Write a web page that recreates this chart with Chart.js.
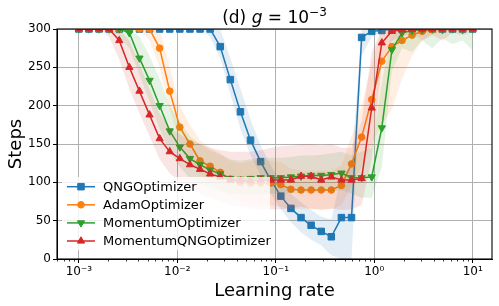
<!DOCTYPE html>
<html><head><meta charset="utf-8">
<script src="https://cdn.jsdelivr.net/npm/chart.js@4"></script>
<style>html,body{margin:0;padding:0;background:#fff;}</style>
</head><body>
<canvas id="c" width="499" height="306" style="display:block;width:499px;height:306px"></canvas>
<script>
// ---- data ----
const learningRates = [0.001, 0.0012664, 0.0016037, 0.0020309, 0.0025719, 0.003257, 0.0041246, 0.0052233, 0.0066147, 0.0083768,
  0.010608, 0.013434, 0.017013, 0.021544, 0.027283, 0.034551, 0.043755, 0.05541, 0.07017, 0.088862,
  0.11253, 0.14251, 0.18047, 0.22855, 0.28943, 0.36652, 0.46416, 0.5878, 0.74438, 0.94267,
  1.1938, 1.5118, 1.9145, 2.4245, 3.0703, 3.8882, 4.9239, 6.2355, 7.8965, 10.0];

const qngSteps = [300,300,300,300,300,300,300,300,300,300, 300,300,300,300,277,234,192,155,127,103,
  82,66,54,44,36,29,54,54,289,297, 298,300,300,300,300,300,300,300,300,300];
const qngLow = [300,300,300,300,300,300,300,300,300,300, 300,300,300,290,262,215,170,135,110,85,
  65,48,35,25,18,5,0,0,265,290, 296,300,300,300,300,300,300,300,300,300];
const qngHigh = [300,300,300,300,300,300,300,300,300,300, 300,300,300,300,300,262,222,182,148,122,
  100,85,74,64,55,52,110,120,300,300, 300,300,300,300,300,300,300,300,300,300];

const adamSteps = [300,300,300,300,300,300,300,300,275,219, 172,150,128,121,113,104,100,99,99,99,
  97,91,90,90,90,90,96,124,159,208, 258,277,285,292,297,299,300,300,300,300];
const adamLow = [300,300,300,300,300,300,300,285,250,195, 150,130,110,100,90,82,75,72,70,70,
  68,65,65,65,65,65,70,95,120,150, 175,195,235,265,285,293,296,298,298,298];
const adamHigh = [300,300,300,300,300,300,300,300,300,250, 200,175,155,145,138,128,125,128,128,128,
  126,118,115,115,115,115,122,160,200,255, 300,300,300,300,300,300,300,300,300,300];

const momSteps = [300,300,300,300,300,295,262,233,200,167, 146,131,123,116,111,105,104,105,106,106,
  106,107,108,109,109,110,112,106,106,107, 171,273,295,298,299,300,299,300,299,300];
const momLow = [300,300,300,300,290,275,240,205,170,140, 120,105,98,92,88,85,85,85,85,85,
  85,86,86,88,88,88,90,85,80,80, 120,245,275,270,285,275,288,280,285,272];
const momHigh = [300,300,300,300,300,300,290,265,235,200, 178,160,150,142,136,130,128,130,132,132,
  132,133,135,135,136,138,140,135,140,145, 230,300,300,300,300,300,300,300,300,300];

const mqngSteps = [300,300,300,300,285,250,219,188,157,140, 131,123,117,111,107,103,102,102,103,103,
  103,103,108,108,103,107,103,103,105,197, 282,297,299,300,300,300,300,300,300,300];
const mqngLow = [300,300,300,290,260,222,190,160,130,112, 100,92,85,80,75,70,68,66,65,65,
  65,66,68,66,64,66,64,65,70,130, 255,285,290,295,285,292,285,295,292,296];
const mqngHigh = [300,300,300,300,300,285,255,222,190,172, 162,155,150,145,142,140,140,140,142,145,
  147,148,150,150,148,150,145,145,180,270, 300,300,300,300,300,300,300,300,300,300];

const seriesNames = ['QNGOptimizer', 'AdamOptimizer', 'MomentumOptimizer', 'MomentumQNGOptimizer'];
const xTickValues = [0.001, 0.01, 0.1, 1, 10];
const xTickLabels = ['10⁻³', '10⁻²', '10⁻¹', '10⁰', '10¹'];
const yTickStep = 50;

// ---- styling ----
const FONT = "'DejaVu Sans'";
Chart.defaults.font.family = FONT;
const colors = ['#1f77b4', '#ff7f0e', '#2ca02c', '#d62728'];
const fills = ['rgba(31,119,180,0.13)', 'rgba(255,127,14,0.12)', 'rgba(44,160,44,0.12)', 'rgba(214,39,40,0.12)'];
const markers = [
  {pointStyle: 'rect', radius: 4.6, rotation: 0},
  {pointStyle: 'circle', radius: 3.3, rotation: 0},
  {pointStyle: 'triangle', radius: 4.2, rotation: 180},
  {pointStyle: 'triangle', radius: 4.2, rotation: 0}
];
const means = [qngSteps, adamSteps, momSteps, mqngSteps];
const lows = [qngLow, adamLow, momLow, mqngLow];
const highs = [qngHigh, adamHigh, momHigh, mqngHigh];

const pts = arr => arr.map((v, i) => ({x: learningRates[i], y: v}));

const datasets = [];
for (let s = 3; s >= 0; s--) {
  datasets.push({
    label: seriesNames[s], data: pts(means[s]),
    borderColor: colors[s], backgroundColor: colors[s], borderWidth: 1.5,
    pointStyle: markers[s].pointStyle, pointRadius: markers[s].radius, pointRotation: markers[s].rotation,
    pointBackgroundColor: colors[s], pointBorderColor: colors[s], pointBorderWidth: 1,
    tension: 0, fill: false, clip: 0
  });
  datasets.push({
    label: seriesNames[s] + ' upper', data: pts(highs[s]),
    borderColor: 'rgba(0,0,0,0)', borderWidth: 0, pointRadius: 0, pointHoverRadius: 0,
    backgroundColor: fills[s], fill: '+1', tension: 0, clip: 0
  });
  datasets.push({
    label: seriesNames[s] + ' lower', data: pts(lows[s]),
    borderColor: 'rgba(0,0,0,0)', borderWidth: 0, pointRadius: 0, pointHoverRadius: 0,
    fill: false, tension: 0, clip: 0
  });
}

const deco = {
  id: 'deco',
  afterDatasetsDraw(chart) {
    const {ctx, chartArea: a, scales} = chart;
    const xs = scales.x;
    ctx.save();
    // spines
    ctx.strokeStyle = '#000'; ctx.lineWidth = 1.1;
    ctx.strokeRect(a.left, a.top, a.right - a.left, a.bottom - a.top);
    // minor ticks
    ctx.lineWidth = 0.8;
    ctx.beginPath();
    for (let e = -4; e <= 1; e++) for (let m = 2; m <= 9; m++) {
      const v = m * Math.pow(10, e);
      if (v < xs.min || v > xs.max) continue;
      const px = Math.round(xs.getPixelForValue(v)) + 0.5;
      ctx.moveTo(px, a.bottom); ctx.lineTo(px, a.bottom + 2.5);
    }
    ctx.stroke();
    // legend
    ctx.fillStyle = 'rgba(255,255,255,0.8)';
    ctx.fillRect(62, 177, 208, 73);
    for (let i = 0; i < 4; i++) {
      const y = 186.7 + i * 18.1;
      ctx.strokeStyle = colors[i]; ctx.lineWidth = 1.5;
      ctx.beginPath(); ctx.moveTo(67, y); ctx.lineTo(95, y); ctx.stroke();
      ctx.fillStyle = colors[i]; ctx.strokeStyle = colors[i]; ctx.lineWidth = 1;
      Chart.helpers.drawPoint(ctx, {pointStyle: markers[i].pointStyle, rotation: markers[i].rotation, radius: markers[i].radius, borderWidth: 1}, 81, y);
      ctx.fillStyle = '#000'; ctx.font = '13px ' + FONT; ctx.textBaseline = 'middle'; ctx.textAlign = 'left';
      ctx.fillText(seriesNames[i], 103, y + 0.5);
    }
    ctx.restore();
  },
  afterDraw(chart) {
    const {ctx, chartArea: a} = chart;
    ctx.save();
    ctx.fillStyle = '#000';
    // title: (d) g = 10^-3
    const parts = [
      {t: '(d) ', f: '17px ' + FONT, dy: 0},
      {t: 'g', f: 'oblique 17px ' + FONT, dy: 0},
      {t: ' = ', f: '17px ' + FONT, dy: 0},
      {t: '10', f: '17px ' + FONT, dy: 0},
      {t: '−3', f: '12px ' + FONT, dy: -7}
    ];
    let total = 0;
    parts.forEach(p => { ctx.font = p.f; p.w = ctx.measureText(p.t).width; total += p.w; });
    let x = (a.left + a.right) / 2 - total / 2;
    ctx.textBaseline = 'alphabetic'; ctx.textAlign = 'left';
    parts.forEach(p => { ctx.font = p.f; ctx.fillText(p.t, x, 23 + p.dy); x += p.w; });
    // axis titles
    ctx.font = '18px ' + FONT; ctx.textAlign = 'center';
    ctx.fillText('Learning rate', (a.left + a.right) / 2, 296);
    ctx.translate(21, (a.top + a.bottom) / 2);
    ctx.rotate(-Math.PI / 2);
    ctx.fillText('Steps', 0, 0);
    ctx.restore();
  }
};

new Chart(document.getElementById('c'), {
  type: 'line',
  data: {datasets},
  options: {
    responsive: false, animation: false, devicePixelRatio: 1,
    layout: {padding: {top: 29, right: 7, left: 0, bottom: 0}},
    plugins: {legend: {display: false}, tooltip: {enabled: false}, title: {display: false}},
    scales: {
      x: {
        type: 'logarithmic', min: 0.00063, max: 15.7,
        afterBuildTicks: sc => { sc.ticks = xTickValues.map(v => ({value: v, major: true})); },
        afterFit: sc => { sc.height = 47; },
        ticks: {
          callback: (v) => { const k = xTickValues.findIndex(t => Math.abs(t - v) / t < 1e-6); return k >= 0 ? xTickLabels[k] : ''; },
          font: {size: 12}, color: '#000', padding: 2, maxRotation: 0, autoSkip: false
        },
        grid: {color: '#b0b0b0', lineWidth: 1, drawTicks: true, tickLength: 4, tickColor: '#000', tickWidth: 1},
        border: {display: true, color: '#000', width: 1}
      },
      y: {
        min: 0, max: 300,
        afterFit: sc => { sc.width = 57; },
        ticks: {stepSize: yTickStep, font: {size: 12}, color: '#000', padding: 2},
        grid: {color: '#b0b0b0', lineWidth: 1, drawTicks: true, tickLength: 4, tickColor: '#000', tickWidth: 1},
        border: {display: true, color: '#000', width: 1}
      }
    }
  },
  plugins: [deco]
});
</script>
</body></html>
